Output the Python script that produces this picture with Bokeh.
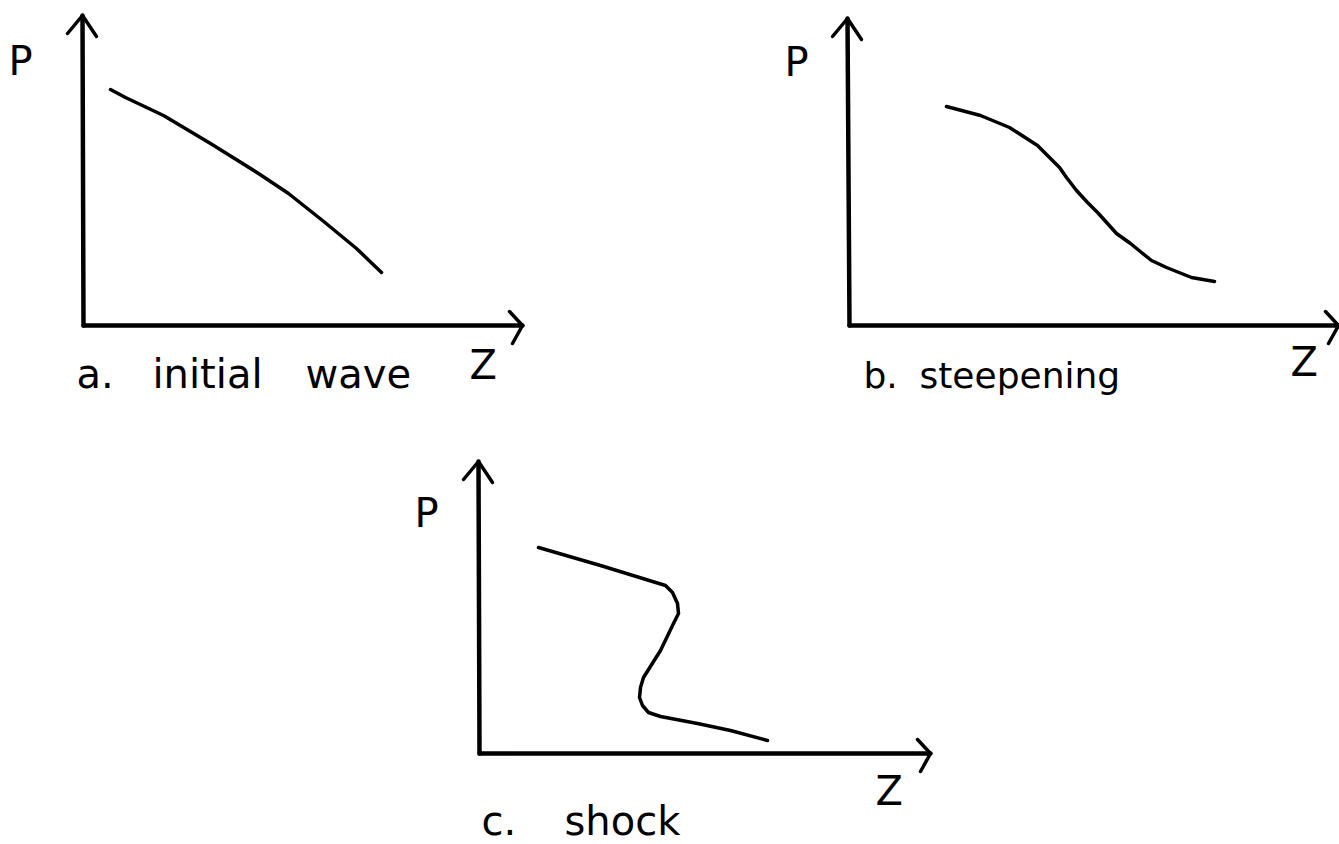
from bokeh.plotting import figure
from bokeh.models import Range1d
from bokeh.embed import file_html
from bokeh.resources import INLINE

# Page-style canvas: x to the right, y downward (pixel-like units)
W, H = 1339, 844

# ---- panel a: initial wave -------------------------------------------------
a_wave_z = [110, 125, 163, 210, 258, 288, 322, 356, 381]
a_wave_p = [89, 97, 115, 143, 173, 193, 220, 248, 272]

# ---- panel b: steepening ---------------------------------------------------
b_wave_z = [946, 980, 1009, 1037, 1059, 1066, 1076, 1087, 1098, 1116,
            1130, 1141, 1151, 1166, 1191, 1214]
b_wave_p = [106, 115, 127, 145, 167, 177, 190, 202, 213, 233,
            243, 252, 260, 267, 277, 281]

# ---- panel c: shock (multi-valued profile) --------------------------------
c_wave_z = [538, 600, 665, 672, 677, 678, 673, 660, 643, 640, 639, 642,
            648, 660, 697, 730, 767]
c_wave_p = [547, 565, 585, 592, 603, 613, 623, 650, 677, 687, 697, 705,
            712, 716, 723, 730, 740]

# axes of each panel: origin, top of P axis, end of Z axis
panel_origin_x = [83, 849, 479]
panel_origin_y = [325, 325, 753]
p_axis_top_x = [82, 847, 478]
p_axis_top_y = [15, 18, 461]
z_axis_end_x = [522, 1338, 930]

p = figure(width=W, height=H, output_backend="svg", toolbar_location=None,
           x_range=Range1d(0, W), y_range=Range1d(H, 0),
           min_border=0, outline_line_color=None)
p.axis.visible = False
p.grid.visible = False
p.background_fill_color = "white"
p.border_fill_color = "white"

ink = "black"
font = "DejaVu Sans"

# coordinate axes with open arrowheads
for i in range(3):
    ox, oy = panel_origin_x[i], panel_origin_y[i]
    tx, ty = p_axis_top_x[i], p_axis_top_y[i]
    ex = z_axis_end_x[i]
    p.line([tx, ox], [ty, oy], line_color=ink, line_width=4.5, line_cap="round")
    p.line([ox, ex], [oy, oy], line_color=ink, line_width=4.5, line_cap="round")
    # arrowhead on P axis
    p.line([tx - 15, tx, tx + 14], [ty + 18, ty, ty + 21], line_color=ink,
           line_width=3.5, line_cap="round", line_join="round")
    # arrowhead on Z axis
    p.line([ex - 13, ex, ex - 10], [oy - 14, oy, oy + 18], line_color=ink,
           line_width=3.5, line_cap="round", line_join="round")

# pressure profiles
for zs, ps in [(a_wave_z, a_wave_p), (b_wave_z, b_wave_p), (c_wave_z, c_wave_p)]:
    p.line(zs, ps, line_color=ink, line_width=3.5, line_cap="round", line_join="round")

# axis letters (positioned by their vertical centre)
p_label_x = [8, 784, 414]
p_label_y = [60, 61, 512]
z_label_x = [469, 1290, 875]
z_label_y = [364, 361, 790]
p.text(x=p_label_x, y=p_label_y, text=["P"] * 3, text_font=dict(value=font),
       text_font_size="40px", text_color=ink, text_baseline="middle", text_align="left")
p.text(x=z_label_x, y=z_label_y, text=["Z"] * 3, text_font=dict(value=font),
       text_font_size="40px", text_color=ink, text_baseline="middle", text_align="left")

# captions: panel letter followed by its words
caption_words = ["a.", "initial", "wave", "b.", "steepening", "c.", "shock"]
caption_x = [76, 152, 305, 863, 919, 481, 564]
caption_y = [373, 373, 373, 375, 375, 820, 820]
caption_size = ["40px", "40px", "40px", "36px", "36px", "40px", "40px"]
for w, x, y, s in zip(caption_words, caption_x, caption_y, caption_size):
    p.text(x=[x], y=[y], text=[w], text_font=dict(value=font), text_font_size=s,
           text_color=ink, text_baseline="middle", text_align="left")

open("out.html", "w").write(file_html(p, INLINE))
